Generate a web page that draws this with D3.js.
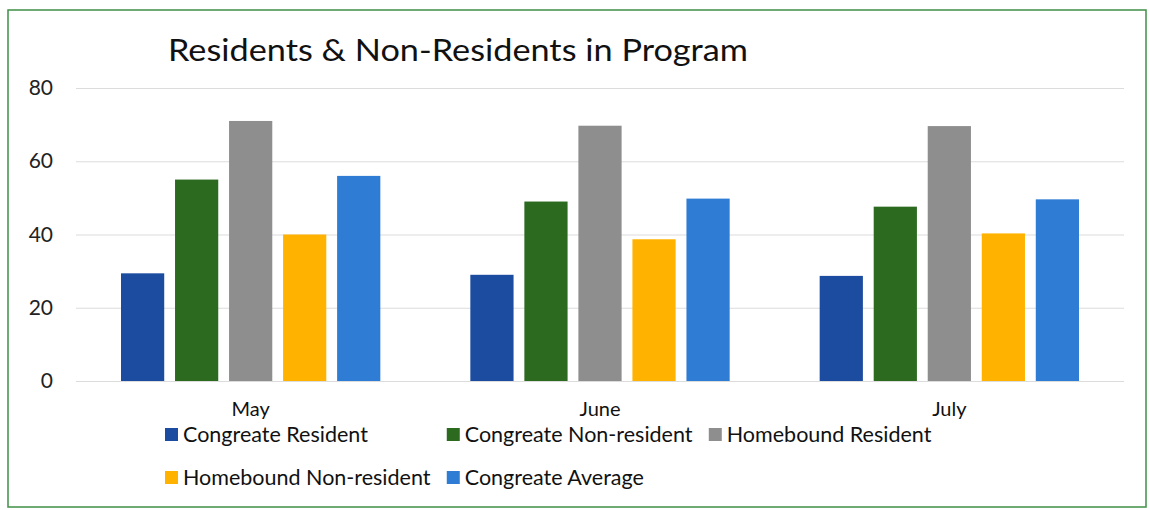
<!DOCTYPE html>
<html>
<head>
<meta charset="utf-8">
<script src="https://cdn.jsdelivr.net/npm/d3@7.9.0/dist/d3.min.js"></script>
<style>
  html, body { margin: 0; padding: 0; background: #fff; }
  svg { display: block; font-family: Lato, "Open Sans", sans-serif; }
</style>
</head>
<body>
<svg id="chart" width="1150" height="510"></svg>
<script>
// --- data ---
const months = ['May', 'June', 'July'];
const seriesNames = ['Congreate Resident', 'Congreate Non-resident', 'Homebound Resident',
                     'Homebound Non-resident', 'Congreate Average'];
const congResident    = [29.4, 29, 28.7];
const congNonResident = [55, 49, 47.6];
const homeResident    = [71, 69.7, 69.6];
const homeNonResident = [40, 38.7, 40.3];
const congAverage     = [56, 49.8, 49.6];
const yTicks = [0, 20, 40, 60, 80];
const colors = ['#1c4ca0', '#2c6a20', '#8e8e8e', '#ffb300', '#2f7cd4'];

const seriesValues = [congResident, congNonResident, homeResident, homeNonResident, congAverage];

const svg = d3.select('#chart');

// frame
svg.append('rect')
  .attr('x', 8).attr('y', 10).attr('width', 1138).attr('height', 497)
  .attr('fill', '#fff').attr('stroke', '#3f8f45').attr('stroke-width', 1.5);

// title
svg.append('text')
  .attr('x', 168).attr('y', 61)
  .attr('font-size', 31).attr('fill', '#111')
  .attr('textLength', 580).attr('lengthAdjust', 'spacingAndGlyphs')
  .text('Residents & Non-Residents in Program');

// scales
const plot = { left: 76, right: 1124, top: 88, bottom: 381 };
const y = d3.scaleLinear().domain([0, 80]).range([plot.bottom, plot.top]);
const x0 = d3.scaleBand().domain(months).range([plot.left, plot.right]).padding(0);
const x1 = d3.scaleBand().domain(seriesNames)
  .range([45, x0.bandwidth() - 45]).paddingInner(0.2);

// gridlines + y labels
const yAxis = d3.axisLeft(y).tickValues(yTicks)
  .tickSize(-(plot.right - plot.left)).tickPadding(23);
const gy = svg.append('g').attr('transform', `translate(${plot.left},0)`).call(yAxis);
gy.select('.domain').remove();
gy.selectAll('.tick line').attr('stroke', '#dcdcdc').attr('stroke-width', 1.2);
gy.selectAll('.tick text').attr('font-size', 21).attr('fill', '#222')
  .attr('font-family', 'Lato, sans-serif');

// bars
const groups = svg.append('g').selectAll('g')
  .data(months)
  .join('g')
  .attr('transform', d => `translate(${x0(d)},0)`);

groups.selectAll('rect')
  .data((m, i) => seriesNames.map((s, k) => ({ series: s, k, value: seriesValues[k][i] })))
  .join('rect')
  .attr('x', d => x1(d.series))
  .attr('width', x1.bandwidth())
  .attr('y', d => y(d.value))
  .attr('height', d => y(0) - y(d.value))
  .attr('fill', d => colors[d.k]);

// category labels
svg.append('g').selectAll('text')
  .data(months)
  .join('text')
  .attr('x', d => x0(d) + x0.bandwidth() / 2)
  .attr('y', 416)
  .attr('text-anchor', 'middle')
  .attr('font-size', 20).attr('fill', '#111')
  .text(d => d);

// legend: 3 columns, wrapped into 2 rows, column width = widest entry
const legend = svg.append('g');
const cols = 3, rowY = [442, 485], legendX = 165, sw = 13, gap = 16;
const items = legend.selectAll('g')
  .data(seriesNames)
  .join('g');
items.append('rect')
  .attr('width', sw).attr('height', sw)
  .attr('y', -14)
  .attr('fill', (d, i) => colors[i]);
items.append('text')
  .attr('x', sw + 5)
  .attr('font-size', 21.5).attr('fill', '#111')
  .text(d => d);

const widths = items.nodes().map(n => n.getBBox().width);
const colW = d3.range(cols).map(c => d3.max(widths.filter((w, i) => i % cols === c)));
let cx = legendX;
const colX = colW.map(w => { const v = cx; cx += w + gap; return v; });
items.attr('transform', (d, i) => `translate(${colX[i % cols]},${rowY[Math.floor(i / cols)]})`);
</script>
</body>
</html>
